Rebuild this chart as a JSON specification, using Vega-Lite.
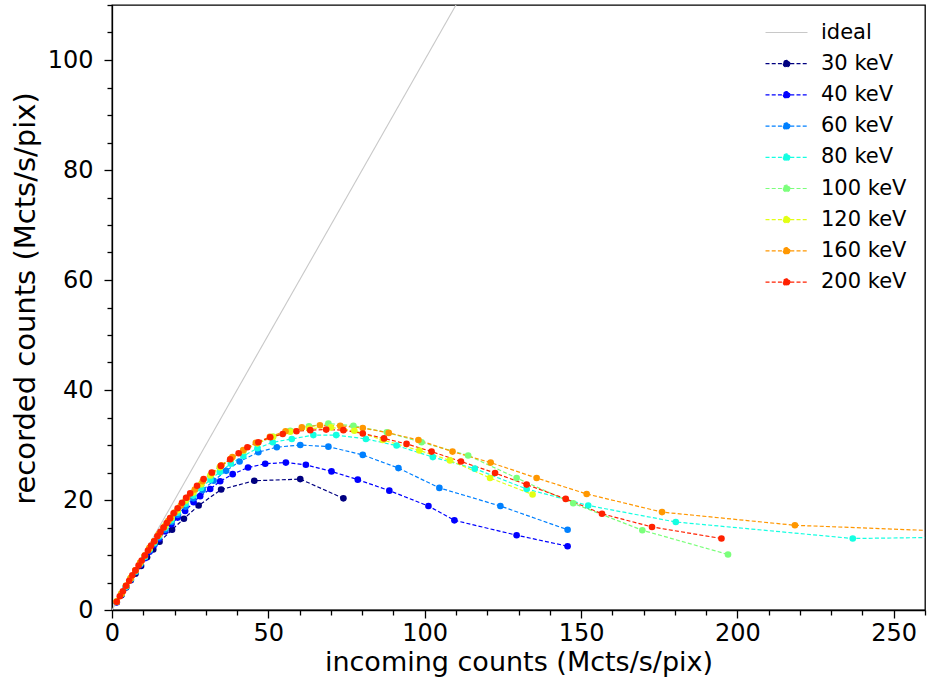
{
  "$schema": "https://vega.github.io/schema/vega-lite/v6.json",
  "description": "Recorded vs incoming counts for several photon energies",
  "width": 813,
  "height": 605,
  "autosize": "none",
  "padding": {"left": 112, "top": 5, "right": 6, "bottom": 86},
  "config": {
    "font": "DejaVu Sans",
    "view": {"stroke": "black", "strokeWidth": 1.3},
    "axis": {
      "grid": false,
      "domainColor": "black",
      "domainWidth": 1.3,
      "tickColor": "black",
      "tickWidth": 1.3,
      "labelFont": "DejaVu Sans",
      "labelFontSize": 24,
      "labelColor": "black",
      "labelOverlap": false,
      "labelBound": false,
      "labelFlush": false,
      "titleFont": "DejaVu Sans",
      "titleFontWeight": "normal",
      "titleColor": "black"
    }
  },
  "data": {
    "values": [
      {"energy": "ideal", "incoming": 0, "recorded": 0},
      {"energy": "ideal", "incoming": 120, "recorded": 120},

      {"energy": "30 keV", "incoming": 1.5, "recorded": 1.4},
      {"energy": "30 keV", "incoming": 3, "recorded": 2.7},
      {"energy": "30 keV", "incoming": 4.5, "recorded": 4.1},
      {"energy": "30 keV", "incoming": 6, "recorded": 5.4},
      {"energy": "30 keV", "incoming": 7.5, "recorded": 6.6},
      {"energy": "30 keV", "incoming": 9.3, "recorded": 8.0},
      {"energy": "30 keV", "incoming": 11.2, "recorded": 9.6},
      {"energy": "30 keV", "incoming": 13.2, "recorded": 11.0},
      {"energy": "30 keV", "incoming": 15.2, "recorded": 12.4},
      {"energy": "30 keV", "incoming": 19.2, "recorded": 14.6},
      {"energy": "30 keV", "incoming": 23, "recorded": 16.6},
      {"energy": "30 keV", "incoming": 27.7, "recorded": 19.0},
      {"energy": "30 keV", "incoming": 34.9, "recorded": 21.9},
      {"energy": "30 keV", "incoming": 45.5, "recorded": 23.5},
      {"energy": "30 keV", "incoming": 60.2, "recorded": 23.8},
      {"energy": "30 keV", "incoming": 74, "recorded": 20.3},

      {"energy": "40 keV", "incoming": 1.5, "recorded": 1.4},
      {"energy": "40 keV", "incoming": 3, "recorded": 2.8},
      {"energy": "40 keV", "incoming": 4.5, "recorded": 4.2},
      {"energy": "40 keV", "incoming": 6, "recorded": 5.5},
      {"energy": "40 keV", "incoming": 7.5, "recorded": 6.9},
      {"energy": "40 keV", "incoming": 9, "recorded": 8.2},
      {"energy": "40 keV", "incoming": 10.5, "recorded": 9.4},
      {"energy": "40 keV", "incoming": 12, "recorded": 10.6},
      {"energy": "40 keV", "incoming": 13.5, "recorded": 11.8},
      {"energy": "40 keV", "incoming": 15, "recorded": 12.9},
      {"energy": "40 keV", "incoming": 17, "recorded": 14.3},
      {"energy": "40 keV", "incoming": 19, "recorded": 15.6},
      {"energy": "40 keV", "incoming": 21, "recorded": 16.8},
      {"energy": "40 keV", "incoming": 23.4, "recorded": 18.0},
      {"energy": "40 keV", "incoming": 26.1, "recorded": 19.6},
      {"energy": "40 keV", "incoming": 28.2, "recorded": 20.7},
      {"energy": "40 keV", "incoming": 31.4, "recorded": 22.0},
      {"energy": "40 keV", "incoming": 34.6, "recorded": 23.4},
      {"energy": "40 keV", "incoming": 38.6, "recorded": 24.7},
      {"energy": "40 keV", "incoming": 43.5, "recorded": 25.9},
      {"energy": "40 keV", "incoming": 49, "recorded": 26.6},
      {"energy": "40 keV", "incoming": 55.6, "recorded": 26.8},
      {"energy": "40 keV", "incoming": 62, "recorded": 26.4},
      {"energy": "40 keV", "incoming": 70.2, "recorded": 25.2},
      {"energy": "40 keV", "incoming": 78.6, "recorded": 23.7},
      {"energy": "40 keV", "incoming": 88.7, "recorded": 21.7},
      {"energy": "40 keV", "incoming": 101.2, "recorded": 18.9},
      {"energy": "40 keV", "incoming": 109.5, "recorded": 16.3},
      {"energy": "40 keV", "incoming": 129.4, "recorded": 13.6},
      {"energy": "40 keV", "incoming": 145.7, "recorded": 11.6},

      {"energy": "60 keV", "incoming": 1.5, "recorded": 1.5},
      {"energy": "60 keV", "incoming": 3, "recorded": 2.8},
      {"energy": "60 keV", "incoming": 4.5, "recorded": 4.2},
      {"energy": "60 keV", "incoming": 6, "recorded": 5.6},
      {"energy": "60 keV", "incoming": 7.5, "recorded": 6.9},
      {"energy": "60 keV", "incoming": 9, "recorded": 8.3},
      {"energy": "60 keV", "incoming": 10.5, "recorded": 9.6},
      {"energy": "60 keV", "incoming": 12, "recorded": 10.8},
      {"energy": "60 keV", "incoming": 13.5, "recorded": 12.0},
      {"energy": "60 keV", "incoming": 15, "recorded": 13.2},
      {"energy": "60 keV", "incoming": 17, "recorded": 14.6},
      {"energy": "60 keV", "incoming": 19, "recorded": 16.0},
      {"energy": "60 keV", "incoming": 21, "recorded": 17.3},
      {"energy": "60 keV", "incoming": 23.5, "recorded": 18.8},
      {"energy": "60 keV", "incoming": 26, "recorded": 20.3},
      {"energy": "60 keV", "incoming": 29, "recorded": 21.8},
      {"energy": "60 keV", "incoming": 32.5, "recorded": 23.5},
      {"energy": "60 keV", "incoming": 36.5, "recorded": 25.3},
      {"energy": "60 keV", "incoming": 40.8, "recorded": 27.0},
      {"energy": "60 keV", "incoming": 46.8, "recorded": 28.7},
      {"energy": "60 keV", "incoming": 52.7, "recorded": 29.6},
      {"energy": "60 keV", "incoming": 60.2, "recorded": 30.0},
      {"energy": "60 keV", "incoming": 69.2, "recorded": 29.7},
      {"energy": "60 keV", "incoming": 80.2, "recorded": 28.2},
      {"energy": "60 keV", "incoming": 91.6, "recorded": 25.8},
      {"energy": "60 keV", "incoming": 104.7, "recorded": 22.2},
      {"energy": "60 keV", "incoming": 124.2, "recorded": 18.9},
      {"energy": "60 keV", "incoming": 145.7, "recorded": 14.6},

      {"energy": "80 keV", "incoming": 1.5, "recorded": 1.5},
      {"energy": "80 keV", "incoming": 3, "recorded": 2.9},
      {"energy": "80 keV", "incoming": 4.5, "recorded": 4.3},
      {"energy": "80 keV", "incoming": 6, "recorded": 5.7},
      {"energy": "80 keV", "incoming": 7.5, "recorded": 7.0},
      {"energy": "80 keV", "incoming": 9, "recorded": 8.4},
      {"energy": "80 keV", "incoming": 10.5, "recorded": 9.7},
      {"energy": "80 keV", "incoming": 12, "recorded": 11.0},
      {"energy": "80 keV", "incoming": 13.5, "recorded": 12.2},
      {"energy": "80 keV", "incoming": 15, "recorded": 13.4},
      {"energy": "80 keV", "incoming": 17, "recorded": 14.9},
      {"energy": "80 keV", "incoming": 19, "recorded": 16.3},
      {"energy": "80 keV", "incoming": 21, "recorded": 17.7},
      {"energy": "80 keV", "incoming": 23.5, "recorded": 19.3},
      {"energy": "80 keV", "incoming": 26, "recorded": 20.8},
      {"energy": "80 keV", "incoming": 28.5, "recorded": 22.2},
      {"energy": "80 keV", "incoming": 31.5, "recorded": 23.7},
      {"energy": "80 keV", "incoming": 34.5, "recorded": 25.1},
      {"energy": "80 keV", "incoming": 38, "recorded": 26.6},
      {"energy": "80 keV", "incoming": 42, "recorded": 28.0},
      {"energy": "80 keV", "incoming": 46.5, "recorded": 29.4},
      {"energy": "80 keV", "incoming": 51.4, "recorded": 30.5},
      {"energy": "80 keV", "incoming": 57.5, "recorded": 31.1},
      {"energy": "80 keV", "incoming": 64.4, "recorded": 31.8},
      {"energy": "80 keV", "incoming": 71.7, "recorded": 31.8},
      {"energy": "80 keV", "incoming": 81.2, "recorded": 31.1},
      {"energy": "80 keV", "incoming": 91, "recorded": 29.9},
      {"energy": "80 keV", "incoming": 102.6, "recorded": 27.8},
      {"energy": "80 keV", "incoming": 116, "recorded": 25.7},
      {"energy": "80 keV", "incoming": 132.6, "recorded": 22.0},
      {"energy": "80 keV", "incoming": 152.3, "recorded": 19.0},
      {"energy": "80 keV", "incoming": 180.3, "recorded": 16.0},
      {"energy": "80 keV", "incoming": 236.9, "recorded": 13.0},
      {"energy": "80 keV", "incoming": 320, "recorded": 13.6},

      {"energy": "100 keV", "incoming": 1.5, "recorded": 1.5},
      {"energy": "100 keV", "incoming": 3, "recorded": 2.9},
      {"energy": "100 keV", "incoming": 4.5, "recorded": 4.3},
      {"energy": "100 keV", "incoming": 6, "recorded": 5.7},
      {"energy": "100 keV", "incoming": 7.5, "recorded": 7.1},
      {"energy": "100 keV", "incoming": 9, "recorded": 8.5},
      {"energy": "100 keV", "incoming": 10.5, "recorded": 9.8},
      {"energy": "100 keV", "incoming": 12, "recorded": 11.1},
      {"energy": "100 keV", "incoming": 13.5, "recorded": 12.4},
      {"energy": "100 keV", "incoming": 15, "recorded": 13.6},
      {"energy": "100 keV", "incoming": 17, "recorded": 15.2},
      {"energy": "100 keV", "incoming": 19, "recorded": 16.7},
      {"energy": "100 keV", "incoming": 21, "recorded": 18.1},
      {"energy": "100 keV", "incoming": 23.5, "recorded": 19.8},
      {"energy": "100 keV", "incoming": 26, "recorded": 21.3},
      {"energy": "100 keV", "incoming": 28.5, "recorded": 22.8},
      {"energy": "100 keV", "incoming": 31.5, "recorded": 24.4},
      {"energy": "100 keV", "incoming": 34.5, "recorded": 25.9},
      {"energy": "100 keV", "incoming": 38, "recorded": 27.4},
      {"energy": "100 keV", "incoming": 42, "recorded": 28.9},
      {"energy": "100 keV", "incoming": 46.5, "recorded": 30.3},
      {"energy": "100 keV", "incoming": 51.5, "recorded": 31.5},
      {"energy": "100 keV", "incoming": 57, "recorded": 32.6},
      {"energy": "100 keV", "incoming": 63, "recorded": 33.4},
      {"energy": "100 keV", "incoming": 69.2, "recorded": 33.9},
      {"energy": "100 keV", "incoming": 77.2, "recorded": 33.5},
      {"energy": "100 keV", "incoming": 87.9, "recorded": 32.3},
      {"energy": "100 keV", "incoming": 99, "recorded": 30.5},
      {"energy": "100 keV", "incoming": 113.9, "recorded": 28.1},
      {"energy": "100 keV", "incoming": 129.4, "recorded": 24.0},
      {"energy": "100 keV", "incoming": 147.5, "recorded": 19.4},
      {"energy": "100 keV", "incoming": 169.6, "recorded": 14.5},
      {"energy": "100 keV", "incoming": 197, "recorded": 10.1},

      {"energy": "120 keV", "incoming": 1.5, "recorded": 1.6},
      {"energy": "120 keV", "incoming": 3, "recorded": 3.0},
      {"energy": "120 keV", "incoming": 4.5, "recorded": 4.4},
      {"energy": "120 keV", "incoming": 6, "recorded": 5.8},
      {"energy": "120 keV", "incoming": 7.5, "recorded": 7.2},
      {"energy": "120 keV", "incoming": 9, "recorded": 8.6},
      {"energy": "120 keV", "incoming": 10.5, "recorded": 9.9},
      {"energy": "120 keV", "incoming": 12, "recorded": 11.2},
      {"energy": "120 keV", "incoming": 13.5, "recorded": 12.5},
      {"energy": "120 keV", "incoming": 15, "recorded": 13.7},
      {"energy": "120 keV", "incoming": 17, "recorded": 15.3},
      {"energy": "120 keV", "incoming": 19, "recorded": 16.8},
      {"energy": "120 keV", "incoming": 21, "recorded": 18.2},
      {"energy": "120 keV", "incoming": 23.5, "recorded": 19.9},
      {"energy": "120 keV", "incoming": 26, "recorded": 21.4},
      {"energy": "120 keV", "incoming": 28.5, "recorded": 22.9},
      {"energy": "120 keV", "incoming": 31.5, "recorded": 24.5},
      {"energy": "120 keV", "incoming": 34.5, "recorded": 26.0},
      {"energy": "120 keV", "incoming": 38, "recorded": 27.5},
      {"energy": "120 keV", "incoming": 42, "recorded": 29.0},
      {"energy": "120 keV", "incoming": 46.5, "recorded": 30.3},
      {"energy": "120 keV", "incoming": 51.5, "recorded": 31.5},
      {"energy": "120 keV", "incoming": 57, "recorded": 32.4},
      {"energy": "120 keV", "incoming": 63, "recorded": 33.0},
      {"energy": "120 keV", "incoming": 70, "recorded": 33.2},
      {"energy": "120 keV", "incoming": 77.5, "recorded": 32.6},
      {"energy": "120 keV", "incoming": 86.6, "recorded": 30.9},
      {"energy": "120 keV", "incoming": 98.3, "recorded": 29.0},
      {"energy": "120 keV", "incoming": 108.1, "recorded": 27.2},
      {"energy": "120 keV", "incoming": 120.9, "recorded": 24.0},
      {"energy": "120 keV", "incoming": 134.5, "recorded": 21.0},

      {"energy": "160 keV", "incoming": 1.5, "recorded": 1.5},
      {"energy": "160 keV", "incoming": 3, "recorded": 2.9},
      {"energy": "160 keV", "incoming": 4.5, "recorded": 4.4},
      {"energy": "160 keV", "incoming": 6, "recorded": 5.8},
      {"energy": "160 keV", "incoming": 7.5, "recorded": 7.2},
      {"energy": "160 keV", "incoming": 9, "recorded": 8.6},
      {"energy": "160 keV", "incoming": 10.5, "recorded": 9.9},
      {"energy": "160 keV", "incoming": 12, "recorded": 11.3},
      {"energy": "160 keV", "incoming": 13.5, "recorded": 12.5},
      {"energy": "160 keV", "incoming": 15, "recorded": 13.8},
      {"energy": "160 keV", "incoming": 16.5, "recorded": 15.0},
      {"energy": "160 keV", "incoming": 18, "recorded": 16.2},
      {"energy": "160 keV", "incoming": 20, "recorded": 17.7},
      {"energy": "160 keV", "incoming": 22, "recorded": 19.0},
      {"energy": "160 keV", "incoming": 24, "recorded": 20.4},
      {"energy": "160 keV", "incoming": 26.5, "recorded": 21.9},
      {"energy": "160 keV", "incoming": 29, "recorded": 23.4},
      {"energy": "160 keV", "incoming": 32, "recorded": 24.9},
      {"energy": "160 keV", "incoming": 35, "recorded": 26.3},
      {"energy": "160 keV", "incoming": 38.5, "recorded": 27.8},
      {"energy": "160 keV", "incoming": 42, "recorded": 29.1},
      {"energy": "160 keV", "incoming": 46, "recorded": 30.4},
      {"energy": "160 keV", "incoming": 50.5, "recorded": 31.5},
      {"energy": "160 keV", "incoming": 55.5, "recorded": 32.5},
      {"energy": "160 keV", "incoming": 60.7, "recorded": 33.2},
      {"energy": "160 keV", "incoming": 66.5, "recorded": 33.6},
      {"energy": "160 keV", "incoming": 73, "recorded": 33.5},
      {"energy": "160 keV", "incoming": 80.2, "recorded": 33.1},
      {"energy": "160 keV", "incoming": 88.5, "recorded": 32.2},
      {"energy": "160 keV", "incoming": 98, "recorded": 30.9},
      {"energy": "160 keV", "incoming": 108.9, "recorded": 28.8},
      {"energy": "160 keV", "incoming": 121.1, "recorded": 26.8},
      {"energy": "160 keV", "incoming": 135.8, "recorded": 24.0},
      {"energy": "160 keV", "incoming": 151.8, "recorded": 21.1},
      {"energy": "160 keV", "incoming": 175.9, "recorded": 17.8},
      {"energy": "160 keV", "incoming": 218.4, "recorded": 15.4},
      {"energy": "160 keV", "incoming": 300, "recorded": 13.6},

      {"energy": "200 keV", "incoming": 1.5, "recorded": 1.5},
      {"energy": "200 keV", "incoming": 2.5, "recorded": 2.5},
      {"energy": "200 keV", "incoming": 3.5, "recorded": 3.4},
      {"energy": "200 keV", "incoming": 4.5, "recorded": 4.4},
      {"energy": "200 keV", "incoming": 5.5, "recorded": 5.3},
      {"energy": "200 keV", "incoming": 6.5, "recorded": 6.3},
      {"energy": "200 keV", "incoming": 7.5, "recorded": 7.2},
      {"energy": "200 keV", "incoming": 8.5, "recorded": 8.1},
      {"energy": "200 keV", "incoming": 9.5, "recorded": 9.0},
      {"energy": "200 keV", "incoming": 10.5, "recorded": 9.9},
      {"energy": "200 keV", "incoming": 11.5, "recorded": 10.8},
      {"energy": "200 keV", "incoming": 12.5, "recorded": 11.7},
      {"energy": "200 keV", "incoming": 13.5, "recorded": 12.5},
      {"energy": "200 keV", "incoming": 14.5, "recorded": 13.4},
      {"energy": "200 keV", "incoming": 15.5, "recorded": 14.2},
      {"energy": "200 keV", "incoming": 16.5, "recorded": 15.0},
      {"energy": "200 keV", "incoming": 17.5, "recorded": 15.8},
      {"energy": "200 keV", "incoming": 18.6, "recorded": 16.7},
      {"energy": "200 keV", "incoming": 19.7, "recorded": 17.6},
      {"energy": "200 keV", "incoming": 21, "recorded": 18.5},
      {"energy": "200 keV", "incoming": 22.4, "recorded": 19.5},
      {"energy": "200 keV", "incoming": 23.7, "recorded": 20.4},
      {"energy": "200 keV", "incoming": 25, "recorded": 21.2},
      {"energy": "200 keV", "incoming": 27.2, "recorded": 22.6},
      {"energy": "200 keV", "incoming": 29.3, "recorded": 23.8},
      {"energy": "200 keV", "incoming": 31.9, "recorded": 25.0},
      {"energy": "200 keV", "incoming": 34.8, "recorded": 26.2},
      {"energy": "200 keV", "incoming": 37.8, "recorded": 27.4},
      {"energy": "200 keV", "incoming": 40.5, "recorded": 28.5},
      {"energy": "200 keV", "incoming": 43.3, "recorded": 29.6},
      {"energy": "200 keV", "incoming": 46.8, "recorded": 30.5},
      {"energy": "200 keV", "incoming": 50.6, "recorded": 31.4},
      {"energy": "200 keV", "incoming": 54.6, "recorded": 32.0},
      {"energy": "200 keV", "incoming": 59, "recorded": 32.5},
      {"energy": "200 keV", "incoming": 63.4, "recorded": 32.7},
      {"energy": "200 keV", "incoming": 68.5, "recorded": 32.8},
      {"energy": "200 keV", "incoming": 74, "recorded": 32.7},
      {"energy": "200 keV", "incoming": 80.2, "recorded": 32.1},
      {"energy": "200 keV", "incoming": 87, "recorded": 31.2},
      {"energy": "200 keV", "incoming": 94.2, "recorded": 30.2},
      {"energy": "200 keV", "incoming": 102.2, "recorded": 28.8},
      {"energy": "200 keV", "incoming": 111.6, "recorded": 27.0},
      {"energy": "200 keV", "incoming": 122.5, "recorded": 24.9},
      {"energy": "200 keV", "incoming": 132.6, "recorded": 22.8},
      {"energy": "200 keV", "incoming": 145.1, "recorded": 20.2},
      {"energy": "200 keV", "incoming": 156.7, "recorded": 17.5},
      {"energy": "200 keV", "incoming": 172.7, "recorded": 15.1},
      {"energy": "200 keV", "incoming": 194.9, "recorded": 13.0}
    ]
  },
  "encoding": {
    "x": {
      "field": "incoming",
      "type": "quantitative",
      "scale": {"domain": [0, 260], "nice": false},
      "axis": {
        "title": "incoming counts (Mcts/s/pix)",
        "titleFontSize": 27,
        "values": [0, 10, 20, 30, 40, 50, 60, 70, 80, 90, 100, 110, 120, 130, 140, 150, 160, 170, 180, 190, 200, 210, 220, 230, 240, 250, 260],
        "labelExpr": "datum.value % 50 === 0 ? datum.label : ''",
        "tickSize": {"condition": {"test": "datum.value % 50 === 0", "value": 8}, "value": 5},
        "labelPadding": 3,
        "titleBaseline": "alphabetic",
        "titleY": 60
      }
    },
    "y": {
      "field": "recorded",
      "type": "quantitative",
      "scale": {"domain": [0, 110], "nice": false},
      "axis": {
        "title": "recorded counts (Mcts/s/pix)",
        "titleFontSize": 29,
        "values": [0, 5, 10, 15, 20, 25, 30, 35, 40, 45, 50, 55, 60, 65, 70, 75, 80, 85, 90, 95, 100, 105, 110],
        "labelExpr": "datum.value % 20 === 0 ? datum.label : ''",
        "tickSize": {"condition": {"test": "datum.value % 20 === 0", "value": 8}, "value": 5},
        "labelPadding": 11,
        "titleBaseline": "alphabetic",
        "titleAngle": -90,
        "titleX": -78,
        "titleY": 293
      }
    },
    "color": {
      "field": "energy",
      "type": "nominal",
      "scale": {
        "domain": ["ideal", "30 keV", "40 keV", "60 keV", "80 keV", "100 keV", "120 keV", "160 keV", "200 keV"],
        "range": ["#c8c8c8", "#000080", "#0000ff", "#0080ff", "#14ffe2", "#7bff7b", "#e2ff14", "#ff9700", "#ff2100"]
      },
      "legend": {
        "title": null,
        "orient": "none",
        "legendX": 664,
        "legendY": 17,
        "padding": 0,
        "labelFont": "DejaVu Sans",
        "labelFontSize": 21,
        "labelColor": "black",
        "labelOffset": 24,
        "rowPadding": 9.2,
        "symbolType": "M-2.5,0H2.5M0.4,0A0.4,0.4,0,1,1,-0.4,0A0.4,0.4,0,1,1,0.4,0Z",
        "symbolSize": 282,
        "symbolStrokeWidth": 1,
        "encode": {
          "symbols": {
            "update": {
              "shape": [
                {"test": "datum.value === 'ideal'", "value": "M-2.5,0H2.5"},
                {"value": "M-2.5,0H2.5M0.4,0A0.4,0.4,0,1,1,-0.4,0A0.4,0.4,0,1,1,0.4,0Z"}
              ],
              "strokeDash": [
                {"test": "datum.value === 'ideal'", "value": [1, 0]},
                {"value": [4, 2.2]}
              ],
              "fill": {"scale": "color", "field": "value"},
              "stroke": {"scale": "color", "field": "value"},
              "strokeWidth": {"value": 1.2},
              "opacity": {"value": 1},
              "fillOpacity": {"value": 1},
              "strokeOpacity": {"value": 1}
            }
          }
        }
      }
    }
  },
  "layer": [
    {
      "transform": [{"filter": "datum.energy === 'ideal'"}],
      "mark": {"type": "line", "clip": true, "strokeWidth": 1.1}
    },
    {
      "transform": [{"filter": "datum.energy !== 'ideal'"}],
      "mark": {"type": "line", "clip": true, "strokeWidth": 1.2, "strokeDash": [4, 2.2], "opacity": 1}
    },
    {
      "transform": [{"filter": "datum.energy !== 'ideal'"}],
      "mark": {"type": "point", "clip": true, "filled": true, "size": 44, "opacity": 1}
    }
  ]
}
